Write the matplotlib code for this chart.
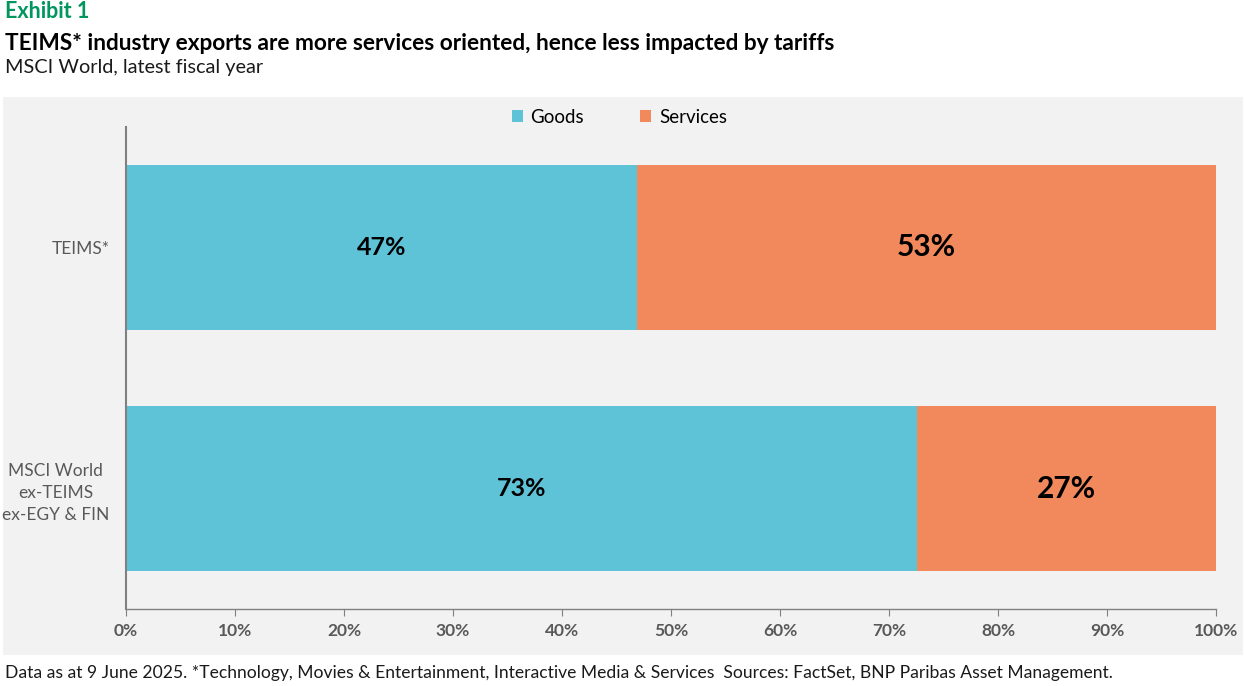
import matplotlib.pyplot as plt
from matplotlib.patches import Rectangle

plt.rcParams['font.family'] = ['Lato', 'DejaVu Sans']

categories = ['TEIMS*', 'MSCI World\nex-TEIMS\nex-EGY & FIN']
goods = [46.9, 72.6]
services = [53.1, 27.4]
goods_labels = ['47%', '73%']
services_labels = ['53%', '27%']
x_ticks = [0, 10, 20, 30, 40, 50, 60, 70, 80, 90, 100]

goods_color = '#5fc3d8'
services_color = '#f1895c'
panel_color = '#f2f2f2'
axis_color = '#808080'
tick_text = '#595959'

fig = plt.figure(figsize=(12.46, 6.86), dpi=100)
fig.patches.append(Rectangle((3 / 1246, 31 / 686), 1240 / 1246, 558 / 686,
                             transform=fig.transFigure, facecolor=panel_color,
                             edgecolor='none', zorder=-5))

ax = fig.add_axes([126 / 1246, 77 / 686, 1090 / 1246, 482 / 686])
ax.set_facecolor('none')
ax.set_zorder(2)

y = list(range(len(categories)))
ax.barh(y, goods, height=0.685, color=goods_color, label='Goods')
ax.barh(y, services, left=goods, height=0.685, color=services_color, label='Services')

for i in y:
    ax.text(goods[i] / 2, i, goods_labels[i], ha='center', va='center',
            fontsize=18, fontweight='bold', color='black')
    ax.text(goods[i] + services[i] / 2, i, services_labels[i], ha='center', va='center',
            fontsize=21.5, fontweight='bold', color='black')

ax.set_ylim(1.5, -0.5)
ax.set_xlim(0, 100)
ax.set_yticks(y)
ax.set_yticklabels(categories, multialignment='center', fontsize=12.5, color=tick_text,
                   linespacing=1.45)
ax.tick_params(axis='y', length=0, pad=12)
ax.set_xticks(x_ticks)
ax.set_xticklabels([f'{t}%' for t in x_ticks], fontsize=12.5, color=tick_text, fontweight='bold')
ax.tick_params(axis='x', direction='out', length=5, color=axis_color, pad=5)

for s in ['top', 'right']:
    ax.spines[s].set_visible(False)
ax.spines['left'].set_color(axis_color)
ax.spines['left'].set_linewidth(1.5)
ax.spines['bottom'].set_color(axis_color)
ax.spines['bottom'].set_linewidth(1.0)

fig.legend(loc='center', bbox_to_anchor=(0.497, 0.829), ncol=2, frameon=False,
           fontsize=13.5, handlelength=0.6, handleheight=0.6, columnspacing=3.0,
           handletextpad=0.4)

fig.text(5 / 1246, 1 - 12 / 686, 'Exhibit 1', fontsize=15.5, fontweight='bold',
         color='#00965e', va='center')
fig.text(5 / 1246, 1 - 43 / 686,
         'TEIMS* industry exports are more services oriented, hence less impacted by tariffs',
         fontsize=16.3, fontweight='bold', color='black', va='center')
fig.text(5 / 1246, 1 - 68 / 686, 'MSCI World, latest fiscal year', fontsize=14.3,
         color='#1a1a1a', va='center')
fig.text(5 / 1246, 1 - 673 / 686,
         'Data as at 9 June 2025. *Technology, Movies & Entertainment, Interactive Media & Services  '
         'Sources: FactSet, BNP Paribas Asset Management.',
         fontsize=12.6, color='#1a1a1a', va='center')

fig.savefig('out.png', dpi=100)
